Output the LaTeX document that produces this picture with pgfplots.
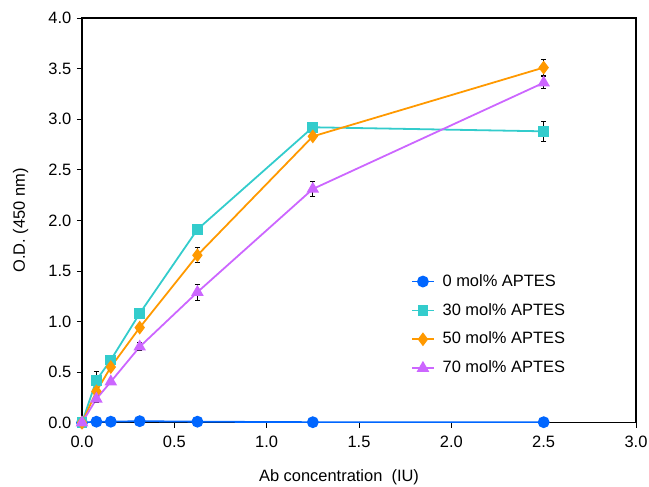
\documentclass[border=0pt]{standalone}
\usepackage{fontspec}
\setmainfont{Liberation Sans}
\usepackage{pgfplots}
\pgfplotsset{compat=1.18}
\definecolor{cblue}{RGB}{0,102,255}
\definecolor{ccyan}{RGB}{51,204,204}
\definecolor{corange}{RGB}{255,153,0}
\definecolor{cpurple}{RGB}{204,102,255}
\begin{document}
\fontsize{16.5}{19}\selectfont
\begin{tikzpicture}
\path[use as bounding box] (-82bp,-64.3bp) rectangle (567bp,422.7bp);
\begin{axis}[
  at={(0,0)}, anchor=south west,
  scale only axis, width=554bp, height=404.7bp,
  xmin=0, xmax=3, ymin=0, ymax=4,
  xtick={0,0.5,...,3.0}, ytick={0,0.5,...,4.0},
  /pgf/number format/.cd, fixed, fixed zerofill, precision=1, assume math mode=true, /pgfplots/.cd,
  tick style={black, line width=0.8pt},
  tick align=outside, major tick length=5bp,
  xtick pos=bottom, ytick pos=left,
  axis line style={black, line width=1.2pt},
  tick label style={font=\fontsize{16.5}{19}\selectfont},
  xticklabel style={yshift=-3bp},
  label style={font=\fontsize{16.5}{19}\selectfont},
  xlabel={Ab concentration\ \ (IU)},
  ylabel={O.D. (450 nm)},
  xlabel style={yshift=-10bp, xshift=-20bp},
  ylabel style={yshift=9bp},
  legend style={draw=none, fill=none, at={(0.594,0.372)}, anchor=north west,
    font=\fontsize{16.5}{19}\selectfont, row sep=10.5bp, inner sep=0pt,
    nodes={inner xsep=8bp}},
  legend cell align=left,
  legend image code/.code={\draw[mark repeat=2,mark phase=2,#1] plot coordinates {(0cm,0cm)(0.38cm,0cm)(0.76cm,0cm)};},
  every axis plot/.append style={line width=1.8pt},
  error bars/error bar style={black, line width=0.9pt},
  error bars/error mark options={black, rotate=90, mark size=2.5bp, line width=0.9pt},
]
\addplot[cblue, mark=*, mark size=5bp, mark options={solid}] coordinates {
(0,0.0) (0.078,0.01) (0.156,0.01) (0.3125,0.015) (0.625,0.01) (1.25,0.005) (2.5,0.005)};
\addlegendentry{0 mol\% APTES}
\addplot[ccyan, mark=square*, mark size=4.5bp, mark options={solid},
  error bars/.cd, y dir=both, y explicit] coordinates {
(0,0.0) +- (0,0.01)
(0.078,0.42) +- (0,0.09)
(0.156,0.62) +- (0,0.03)
(0.3125,1.08) +- (0,0.02)
(0.625,1.91) +- (0,0.02)
(1.25,2.92) +- (0,0.02)
(2.5,2.88) +- (0,0.10)};
\addlegendentry{30 mol\% APTES}
\addplot[corange, mark=diamond*, mark size=5.5bp, mark options={solid},
  error bars/.cd, y dir=both, y explicit] coordinates {
(0,0.0) +- (0,0.01)
(0.078,0.31) +- (0,0.04)
(0.156,0.55) +- (0,0.03)
(0.3125,0.94) +- (0,0.03)
(0.625,1.655) +- (0,0.075)
(1.25,2.83) +- (0,0.03)
(2.5,3.51) +- (0,0.08)};
\addlegendentry{50 mol\% APTES}
\addplot[cpurple, mark=triangle*, mark size=5.5bp, mark options={solid},
  error bars/.cd, y dir=both, y explicit] coordinates {
(0,0.0) +- (0,0.01)
(0.078,0.235) +- (0,0.03)
(0.156,0.405) +- (0,0.02)
(0.3125,0.75) +- (0,0.04)
(0.625,1.29) +- (0,0.08)
(1.25,2.31) +- (0,0.07)
(2.5,3.36) +- (0,0.06)};
\addlegendentry{70 mol\% APTES}
\end{axis}
\end{tikzpicture}
\end{document}
